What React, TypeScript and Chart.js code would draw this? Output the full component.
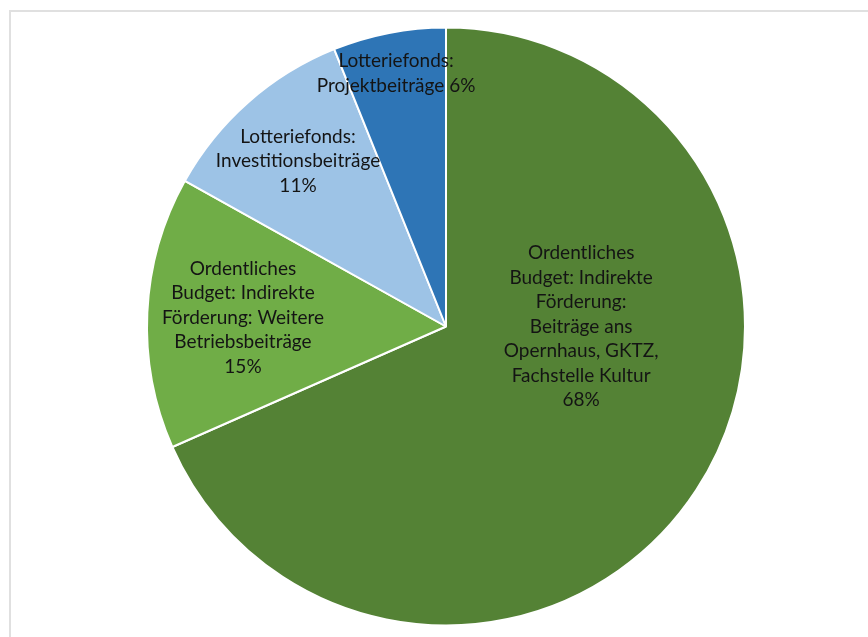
import React, { useEffect, useRef } from "react";
import { Chart, registerables } from "chart.js";

Chart.register(...registerables);

// ---- data ----
const categories = [
  "Ordentliches\nBudget: Indirekte\nFörderung:\nBeiträge ans\nOpernhaus, GKTZ,\nFachstelle Kultur",
  "Ordentliches\nBudget: Indirekte\nFörderung: Weitere\nBetriebsbeiträge",
  "Lotteriefonds:\nInvestitionsbeiträge",
  "Lotteriefonds:\nProjektbeiträge",
];
const shares = [68.4, 14.7, 10.8, 6.1];
const percentSeparators = ["\n", "\n", "\n", " "];
const sliceColors = ["#548235", "#70AD47", "#9DC3E6", "#2E75B6"];

// label placement, as fractions of the pie radius from its centre
const labelOffsets: [number, number][] = [
  [0.452, 0.0],
  [-0.679, -0.03],
  [-0.495, -0.553],
  [-0.167, -0.846],
];
const LABEL_FONT = '19px Lato, "Noto Sans", sans-serif';
const LINE_HEIGHT = 24.5;

const labelPlugin = {
  id: "sliceLabels",
  afterDatasetsDraw(chart: any) {
    const meta = chart.getDatasetMeta(0);
    const ctx = chart.ctx as CanvasRenderingContext2D;
    const data = chart.data.datasets[0].data as number[];
    ctx.save();
    ctx.font = LABEL_FONT;
    ctx.fillStyle = "#141414";
    ctx.textAlign = "center";
    ctx.textBaseline = "middle";
    meta.data.forEach((arc: any, i: number) => {
      const { x, y, outerRadius } = arc.getProps(["x", "y", "outerRadius"], true);
      const [fx, fy] = labelOffsets[i];
      const cx = x + fx * outerRadius;
      const cy = y + fy * outerRadius;
      const text =
        chart.data.labels[i] + percentSeparators[i] + Math.round(data[i]) + "%";
      const lines = text.split("\n");
      const top = cy - ((lines.length - 1) * LINE_HEIGHT) / 2;
      lines.forEach((line: string, j: number) => {
        ctx.fillText(line, cx, top + j * LINE_HEIGHT);
      });
    });
    ctx.restore();
  },
};

export default function App() {
  const canvasRef = useRef<HTMLCanvasElement | null>(null);

  useEffect(() => {
    if (!canvasRef.current) return;
    const chart = new Chart(canvasRef.current, {
      type: "pie",
      data: {
        labels: categories,
        datasets: [
          {
            data: shares,
            backgroundColor: sliceColors,
            borderColor: "#ffffff",
            borderWidth: 2,
          },
        ],
      },
      options: {
        responsive: false,
        animation: false,
        radius: 299,
        rotation: 0,
        layout: { padding: { left: 24, top: 16, right: 0, bottom: 0 } },
        plugins: {
          legend: { display: false },
          tooltip: { enabled: false },
        },
      } as any,
      plugins: [labelPlugin],
    });
    return () => chart.destroy();
  }, []);

  return (
    <div
      style={{
        position: "absolute",
        left: 0,
        top: 0,
        width: 868,
        height: 637,
        overflow: "hidden",
        background: "#ffffff",
      }}
    >
      <div
        style={{
          position: "absolute",
          left: 9,
          top: 10,
          width: 900,
          height: 700,
          borderTop: "2px solid #e0e0e0",
          borderLeft: "2px solid #e0e0e0",
        }}
      />
      <canvas
        ref={canvasRef}
        width={868}
        height={637}
        style={{ position: "absolute", left: 0, top: 0 }}
      />
    </div>
  );
}
